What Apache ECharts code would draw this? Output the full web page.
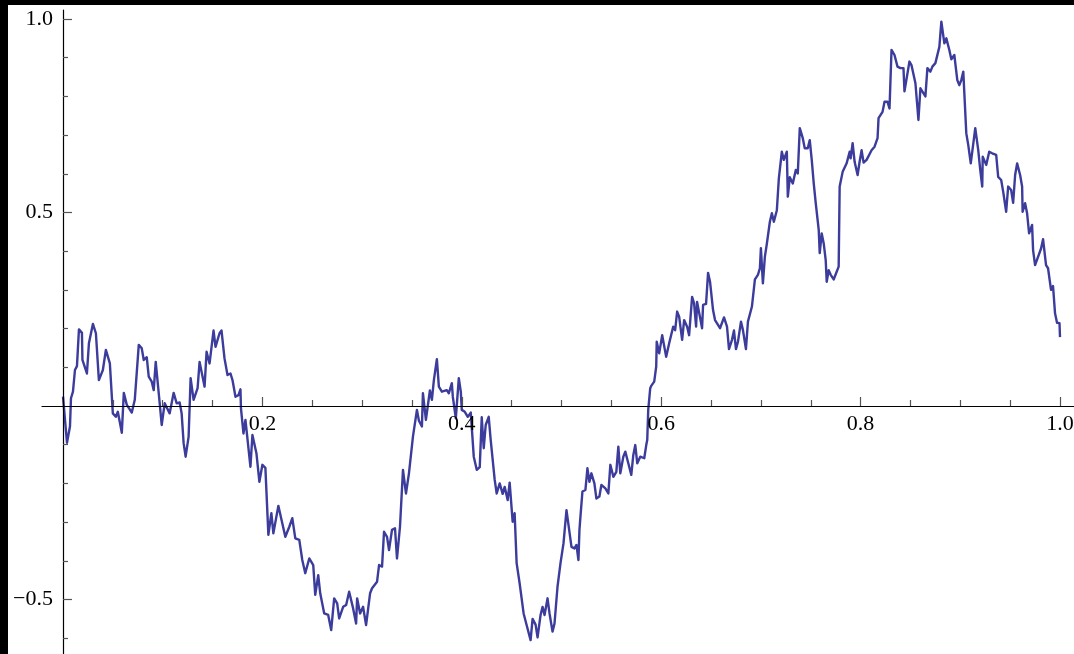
<!DOCTYPE html>
<html>
<head>
<meta charset="utf-8">
<script src="https://cdn.jsdelivr.net/npm/echarts@6/dist/echarts.min.js"></script>
<style>
  html, body { margin: 0; padding: 0; background: #000; width: 1074px; height: 654px; overflow: hidden; }
  #chart { position: absolute; left: 8px; top: 5px; width: 1066px; height: 649px; background: #fff; }
</style>
</head>
<body>
<div id="chart"></div>
<script>
// random walk, [x, y]
const walkA = [
  [0.000, 0.024], [0.004, -0.095], [0.007, -0.053], [0.008, 0.020], [0.010, 0.037], [0.012, 0.093],
  [0.014, 0.103], [0.016, 0.198], [0.019, 0.189], [0.0195, 0.119], [0.024, 0.084], [0.026, 0.162],
  [0.030, 0.212], [0.033, 0.188], [0.036, 0.067], [0.040, 0.093], [0.043, 0.145], [0.047, 0.110],
  [0.050, -0.019], [0.053, -0.028], [0.055, -0.015], [0.059, -0.069], [0.061, 0.034], [0.064, 0.003],
  [0.069, -0.017], [0.072, 0.016], [0.076, 0.158], [0.079, 0.149], [0.081, 0.119], [0.084, 0.126],
  [0.086, 0.076], [0.089, 0.063], [0.091, 0.041], [0.093, 0.114], [0.095, 0.117], [0.097, 0.007],
  [0.099, -0.049], [0.102, 0.007], [0.107, -0.019], [0.111, 0.034], [0.114, 0.007], [0.117, 0.009],
  [0.119, -0.019], [0.121, -0.096], [0.123, -0.131], [0.126, -0.079], [0.128, 0.072], [0.131, 0.016],
  [0.135, 0.046], [0.137, 0.114], [0.142, 0.050], [0.144, 0.140], [0.147, 0.110], [0.149, 0.110],
  [0.151, 0.195], [0.153, 0.153], [0.155, 0.153], [0.157, 0.188], [0.159, 0.195], [0.162, 0.123],
  [0.165, 0.080], [0.168, 0.084], [0.170, 0.067], [0.173, 0.024], [0.176, 0.028], [0.178, 0.043]
];
const walkB = [
  [0.1785, -0.006], [0.181, -0.071], [0.183, -0.036], [0.188, -0.157], [0.190, -0.075], [0.194, -0.122],
  [0.197, -0.196], [0.200, -0.152], [0.203, -0.160], [0.206, -0.333], [0.209, -0.277], [0.211, -0.329],
  [0.216, -0.258], [0.223, -0.338], [0.227, -0.312], [0.230, -0.290], [0.233, -0.342], [0.237, -0.346],
  [0.240, -0.398], [0.243, -0.432], [0.247, -0.394], [0.251, -0.411], [0.253, -0.488], [0.256, -0.437],
  [0.258, -0.484], [0.262, -0.536], [0.266, -0.540], [0.269, -0.579], [0.272, -0.497], [0.275, -0.510],
  [0.277, -0.549], [0.281, -0.519], [0.284, -0.514], [0.287, -0.480], [0.291, -0.523], [0.294, -0.562],
  [0.295, -0.497], [0.298, -0.536], [0.301, -0.519], [0.304, -0.566], [0.308, -0.484], [0.310, -0.471],
  [0.315, -0.454], [0.317, -0.411], [0.320, -0.415], [0.322, -0.325], [0.325, -0.338], [0.327, -0.372],
  [0.330, -0.320], [0.333, -0.316], [0.335, -0.394], [0.338, -0.312], [0.341, -0.165], [0.344, -0.226],
  [0.347, -0.174], [0.351, -0.079], [0.355, -0.010], [0.357, -0.038], [0.360, -0.053], [0.361, 0.033],
  [0.364, -0.036], [0.366, -0.038], [0.368, 0.040], [0.370, 0.016], [0.372, 0.067], [0.375, 0.121],
  [0.377, 0.050], [0.380, 0.037], [0.385, 0.041], [0.387, 0.033], [0.390, 0.059], [0.391, 0.024],
  [0.394, -0.032], [0.397, 0.072], [0.399, 0.037], [0.400, -0.010], [0.403, -0.015], [0.406, -0.028],
  [0.409, -0.017], [0.412, -0.131], [0.415, -0.165], [0.418, -0.158], [0.420, -0.029], [0.422, -0.109],
  [0.424, -0.049], [0.427, -0.028], [0.429, -0.088], [0.433, -0.191], [0.435, -0.226], [0.438, -0.200],
  [0.441, -0.227], [0.443, -0.209], [0.446, -0.243], [0.448, -0.198], [0.451, -0.299], [0.453, -0.277],
  [0.455, -0.406], [0.458, -0.458], [0.462, -0.536], [0.465, -0.566]
];
const walkC = [
  [0.469, -0.605], [0.471, -0.550], [0.474, -0.565], [0.476, -0.598], [0.479, -0.540], [0.481, -0.519],
  [0.483, -0.540], [0.486, -0.497], [0.488, -0.536], [0.491, -0.583], [0.493, -0.562], [0.496, -0.467],
  [0.499, -0.406], [0.502, -0.355], [0.505, -0.269], [0.507, -0.265], [0.510, -0.364], [0.513, -0.368],
  [0.515, -0.359], [0.517, -0.398], [0.518, -0.320], [0.519, -0.286], [0.521, -0.221], [0.524, -0.217],
  [0.526, -0.161], [0.528, -0.196], [0.530, -0.174], [0.533, -0.200], [0.535, -0.239], [0.538, -0.234],
  [0.540, -0.204], [0.544, -0.213], [0.547, -0.226], [0.549, -0.152], [0.552, -0.183], [0.555, -0.170],
  [0.557, -0.105], [0.559, -0.174], [0.562, -0.131], [0.564, -0.118], [0.567, -0.148], [0.570, -0.178],
  [0.572, -0.127], [0.574, -0.101], [0.576, -0.148], [0.579, -0.131], [0.583, -0.135], [0.585, -0.101],
  [0.586, -0.088], [0.587, -0.010], [0.589, 0.046], [0.590, 0.052], [0.593, 0.063], [0.595, 0.102],
  [0.5955, 0.166], [0.598, 0.136], [0.601, 0.183], [0.605, 0.127], [0.608, 0.162], [0.612, 0.205],
  [0.614, 0.196], [0.616, 0.244], [0.618, 0.231], [0.621, 0.171], [0.623, 0.222], [0.626, 0.205],
  [0.628, 0.183], [0.631, 0.282], [0.633, 0.265], [0.635, 0.205], [0.636, 0.269], [0.638, 0.265],
  [0.641, 0.201], [0.642, 0.261], [0.645, 0.264], [0.647, 0.344], [0.649, 0.321], [0.652, 0.248],
  [0.654, 0.222], [0.656, 0.218], [0.659, 0.201], [0.661, 0.201], [0.663, 0.229], [0.666, 0.205],
  [0.668, 0.147], [0.671, 0.171], [0.673, 0.195], [0.675, 0.147], [0.677, 0.166], [0.680, 0.218],
  [0.682, 0.196], [0.685, 0.147], [0.687, 0.218], [0.691, 0.257], [0.694, 0.327], [0.697, 0.339],
  [0.699, 0.356]
];
const walkD = [
  [0.700, 0.408], [0.702, 0.317], [0.704, 0.386], [0.706, 0.420], [0.709, 0.476], [0.711, 0.498],
  [0.713, 0.476], [0.716, 0.506], [0.718, 0.588], [0.721, 0.657], [0.723, 0.636], [0.726, 0.657],
  [0.727, 0.541], [0.729, 0.591], [0.732, 0.575], [0.735, 0.610], [0.737, 0.601], [0.739, 0.718],
  [0.742, 0.692], [0.744, 0.666], [0.747, 0.666], [0.749, 0.687], [0.751, 0.636], [0.753, 0.575],
  [0.755, 0.524], [0.758, 0.455], [0.759, 0.395], [0.761, 0.446], [0.763, 0.420], [0.765, 0.377],
  [0.766, 0.321], [0.768, 0.351], [0.770, 0.339], [0.773, 0.327], [0.776, 0.347], [0.778, 0.360],
  [0.779, 0.567], [0.782, 0.605], [0.784, 0.600], [0.786, 0.627], [0.789, 0.657], [0.790, 0.640],
  [0.792, 0.679], [0.794, 0.631], [0.797, 0.597], [0.799, 0.631], [0.801, 0.661], [0.803, 0.629],
  [0.806, 0.636], [0.808, 0.631], [0.811, 0.661], [0.814, 0.670], [0.817, 0.692], [0.818, 0.744],
  [0.820, 0.748], [0.822, 0.760], [0.824, 0.786], [0.827, 0.786], [0.829, 0.769], [0.831, 0.920],
  [0.834, 0.907], [0.837, 0.877], [0.840, 0.873], [0.843, 0.873], [0.844, 0.813], [0.846, 0.817],
  [0.849, 0.890], [0.851, 0.881], [0.855, 0.834], [0.858, 0.739], [0.860, 0.821], [0.865, 0.800],
  [0.867, 0.873], [0.870, 0.864], [0.872, 0.877], [0.875, 0.886], [0.877, 0.881], [0.879, 0.928],
  [0.881, 0.993], [0.884, 0.937], [0.886, 0.950], [0.889, 0.920], [0.891, 0.896], [0.894, 0.907],
  [0.896, 0.902], [0.897, 0.842], [0.899, 0.829], [0.901, 0.842], [0.903, 0.864], [0.906, 0.705],
  [0.908, 0.674], [0.910, 0.670], [0.9105, 0.627], [0.915, 0.718], [0.918, 0.661], [0.920, 0.610],
  [0.922, 0.567], [0.9225, 0.644], [0.926, 0.623], [0.929, 0.657], [0.932, 0.653], [0.936, 0.649],
  [0.938, 0.592], [0.941, 0.584], [0.943, 0.554], [0.946, 0.502], [0.948, 0.567], [0.951, 0.558],
  [0.953, 0.525], [0.955, 0.597], [0.957, 0.627], [0.960, 0.597], [0.962, 0.567], [0.9625, 0.502],
  [0.965, 0.524], [0.967, 0.498], [0.969, 0.446], [0.972, 0.468], [0.973, 0.403], [0.975, 0.364],
  [0.977, 0.364], [0.981, 0.407], [0.983, 0.431], [0.986, 0.364], [0.988, 0.356], [0.991, 0.300],
  [0.993, 0.310], [0.995, 0.240], [0.997, 0.215], [0.9995, 0.214], [1.000, 0.178]
];

// ticks
const xMajorTicks = [0.2, 0.4, 0.6, 0.8, 1.0];
const xMinorTicks = [0.05, 0.1, 0.15, 0.25, 0.3, 0.35, 0.45, 0.5, 0.55, 0.65, 0.7, 0.75, 0.85, 0.9, 0.95];
const yMajorTicks = [-0.5, 0.5, 1.0];
const yMinorTicks = [-0.6, -0.4, -0.3, -0.2, -0.1, 0.1, 0.2, 0.3, 0.4, 0.6, 0.7, 0.8, 0.9];

// plot range (axes run past the data like the original)
const xMin = -0.02106, xMax = 1.01404;
const yMin = -0.64083, yMax = 1.02326;

// grid box inside the chart div, px
const gridLeft = 34, gridTop = 5, gridW = 1032, gridH = 644;
// axes cross at the origin: shift them in from the grid edges
const xAxisShift = -Math.round(gridH * (0 - yMin) / (yMax - yMin));
const yAxisShift = -Math.round(gridW * (0 - xMin) / (xMax - xMin));

const labelFont = { fontFamily: "'Liberation Serif', 'Times New Roman', serif", fontSize: 22, color: '#000' };
const fmt = v => (v < 0 ? '\u2212' : '') + Math.abs(v).toFixed(1);

const chart = echarts.init(document.getElementById('chart'));
const walk = walkA.concat(walkB, walkC, walkD);

const tickStyle = { color: '#555', width: 1.2 };

const option = {
  animation: false,
  backgroundColor: '#fff',
  grid: { left: gridLeft, top: gridTop, width: gridW, height: gridH, containLabel: false, outerBoundsMode: 'none' },
  xAxis: [
    {
      type: 'value', min: xMin, max: xMax, position: 'bottom', offset: xAxisShift, z: 5,
      axisLine: { onZero: false, lineStyle: { color: '#000', width: 1.2 } },
      axisTick: { inside: true, length: 9, customValues: xMajorTicks, lineStyle: tickStyle },
      axisLabel: Object.assign({ customValues: xMajorTicks, margin: 7, formatter: fmt }, labelFont),
      splitLine: { show: false }
    },
    {
      type: 'value', min: xMin, max: xMax, position: 'bottom', offset: xAxisShift, z: 5,
      axisLine: { show: false, onZero: false },
      axisTick: { inside: true, length: 6, customValues: xMinorTicks, lineStyle: tickStyle },
      axisLabel: { show: false },
      splitLine: { show: false }
    }
  ],
  yAxis: [
    {
      type: 'value', min: yMin, max: yMax, position: 'left', offset: yAxisShift, z: 5,
      axisLine: { onZero: false, lineStyle: { color: '#000', width: 1.2 } },
      axisTick: { inside: true, length: 9, customValues: yMajorTicks, lineStyle: tickStyle },
      axisLabel: Object.assign({ customValues: yMajorTicks, margin: 10, formatter: fmt }, labelFont),
      splitLine: { show: false }
    },
    {
      type: 'value', min: yMin, max: yMax, position: 'left', offset: yAxisShift, z: 5,
      axisLine: { show: false, onZero: false },
      axisTick: { inside: true, length: 5, customValues: yMinorTicks, lineStyle: tickStyle },
      axisLabel: { show: false },
      splitLine: { show: false }
    }
  ],
  series: [
    {
      type: 'line',
      xAxisIndex: 0,
      yAxisIndex: 0,
      data: walk,
      showSymbol: false,
      symbol: 'none',
      lineStyle: { color: '#3c3c9c', width: 2.4, join: 'round' }
    }
  ]
};

chart.setOption(option);
</script>
</body>
</html>
